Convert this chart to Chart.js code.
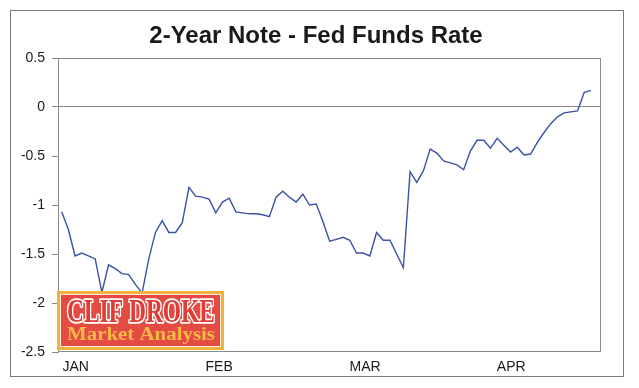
<!DOCTYPE html>
<html>
<head>
<meta charset="utf-8">
<script src="https://cdn.jsdelivr.net/npm/chart.js@4.4.0/dist/chart.umd.min.js"></script>
<style>
  html, body { margin: 0; padding: 0; background: #ffffff; }
  #wrap { width: 639px; height: 388px; }
</style>
</head>
<body>
<div id="wrap"><canvas id="c" width="639" height="388"></canvas></div>
<script>
// ---- data ----
const chartTitle = '2-Year Note - Fed Funds Rate';
const spreadValues = [
  -1.07,-1.25,-1.52,-1.49,-1.52,-1.55,-1.89,-1.61,-1.65,-1.70,
  -1.71,-1.81,-1.90,-1.55,-1.28,-1.16,-1.28,-1.28,-1.18,-0.82,
  -0.91,-0.92,-0.94,-1.08,-0.97,-0.93,-1.07,-1.08,-1.09,-1.09,
  -1.10,-1.12,-0.92,-0.86,-0.92,-0.97,-0.89,-1.00,-0.99,-1.17,
  -1.37,-1.35,-1.33,-1.36,-1.49,-1.49,-1.52,-1.28,-1.36,-1.36,
  -1.50,-1.64,-0.66,-0.77,-0.65,-0.43,-0.47,-0.55,-0.57,-0.59,
  -0.64,-0.45,-0.34,-0.34,-0.42,-0.32,-0.39,-0.46,-0.41,-0.49,
  -0.48,-0.36,-0.26,-0.17,-0.10,-0.06,-0.05,-0.04,0.15,0.17
];
const monthLabels = ['JAN', 'FEB', 'MAR', 'APR'];
const monthTickPositions = [2.1, 23.5, 45.3, 67.1];
const yTickValues = [0.5, 0, -0.5, -1, -1.5, -2, -2.5];
const logoLine1 = 'CLIF DROKE';
const logoLine2 = 'Market Analysis';

const points = spreadValues.map((v, i) => ({ x: i, y: v }));

const decorPlugin = {
  id: 'decor',
  beforeDraw(chart) {
    const ctx = chart.ctx;
    ctx.save();
    ctx.fillStyle = '#ffffff';
    ctx.fillRect(0, 0, chart.width, chart.height);
    ctx.strokeStyle = '#7a7a7a';
    ctx.lineWidth = 1;
    ctx.strokeRect(10.5, 10.5, 613, 366);
    ctx.fillStyle = '#1a1a1a';
    ctx.font = 'bold 24px "Liberation Sans", Arial, sans-serif';
    ctx.textAlign = 'center';
    ctx.textBaseline = 'middle';
    ctx.fillText(chartTitle, 316, 36);
    ctx.restore();
  },
  afterDatasetsDraw(chart) {
    const ctx = chart.ctx;
    const a = chart.chartArea;
    ctx.save();
    ctx.strokeStyle = '#8a8a8a';
    ctx.lineWidth = 1;
    ctx.strokeRect(Math.round(a.left) + 0.5, Math.round(a.top) + 0.5,
                   Math.round(a.right - a.left) - 1, Math.round(a.bottom - a.top) - 1);
    ctx.restore();
  },
  afterDraw(chart) {
    const ctx = chart.ctx;
    ctx.save();
    const bx = 57, by = 291, bw = 167, bh = 59;
    ctx.fillStyle = '#f3b23e';
    ctx.fillRect(bx, by, bw, bh);
    ctx.fillStyle = '#fbeedd';
    ctx.fillRect(bx + 3, by + 3, bw - 6, bh - 6);
    ctx.fillStyle = '#e44b43';
    ctx.fillRect(bx + 4, by + 4, bw - 8, bh - 8);
    ctx.font = 'bold 33px "Liberation Serif", "Times New Roman", serif';
    ctx.textAlign = 'center';
    ctx.textBaseline = 'alphabetic';
    let w = ctx.measureText(logoLine1).width;
    ctx.translate(141, 322);
    ctx.scale(148 / w, 1);
    ctx.lineJoin = 'round';
    ctx.strokeStyle = '#ffffff';
    ctx.lineWidth = 3.5;
    ctx.strokeText(logoLine1, 0, 0);
    ctx.fillStyle = '#e03c36';
    ctx.fillText(logoLine1, 0, 0);
    ctx.restore();
    ctx.save();
    ctx.font = 'bold 18px "Liberation Serif", "Times New Roman", serif';
    ctx.textAlign = 'center';
    ctx.textBaseline = 'alphabetic';
    w = ctx.measureText(logoLine2).width;
    ctx.translate(141, 340);
    ctx.scale(148 / w, 1);
    ctx.fillStyle = '#f6bb45';
    ctx.fillText(logoLine2, 0, 0);
    ctx.restore();
  }
};

new Chart(document.getElementById('c'), {
  type: 'line',
  data: {
    datasets: [{
      data: points,
      borderColor: '#3a52a6',
      borderWidth: 1.4,
      pointRadius: 0,
      tension: 0,
      fill: false
    }]
  },
  options: {
    responsive: false,
    animation: false,
    devicePixelRatio: 1,
    layout: { padding: { top: 58, right: 38, left: 0, bottom: 0 } },
    plugins: { legend: { display: false }, title: { display: false }, tooltip: { enabled: false } },
    scales: {
      x: {
        type: 'linear',
        min: -0.55,
        max: 80.5,
        afterFit(scale) { scale.height = 36; },
        afterBuildTicks(scale) { scale.ticks = monthTickPositions.map(v => ({ value: v })); },
        grid: { display: false, drawTicks: false },
        border: { display: false },
        ticks: {
          autoSkip: false,
          maxRotation: 0,
          padding: 7,
          color: '#1a1a1a',
          font: { family: '"Liberation Sans", Arial, sans-serif', size: 14 },
          callback(value) {
            const i = monthTickPositions.indexOf(value);
            return i >= 0 ? monthLabels[i] : '';
          }
        }
      },
      y: {
        min: -2.5,
        max: 0.5,
        afterFit(scale) { scale.width = 58; },
        afterBuildTicks(scale) { scale.ticks = yTickValues.map(v => ({ value: v })); },
        grid: {
          color: c => (c.tick && c.tick.value === 0) ? '#8a8a8a' : 'rgba(0,0,0,0)',
          tickColor: '#8a8a8a',
          tickLength: 6,
          lineWidth: 1
        },
        border: { display: true, color: '#8a8a8a' },
        ticks: {
          padding: 7,
          color: '#1a1a1a',
          font: { family: '"Liberation Sans", Arial, sans-serif', size: 14 },
          callback: v => String(v)
        }
      }
    }
  },
  plugins: [decorPlugin]
});
</script>
</body>
</html>
